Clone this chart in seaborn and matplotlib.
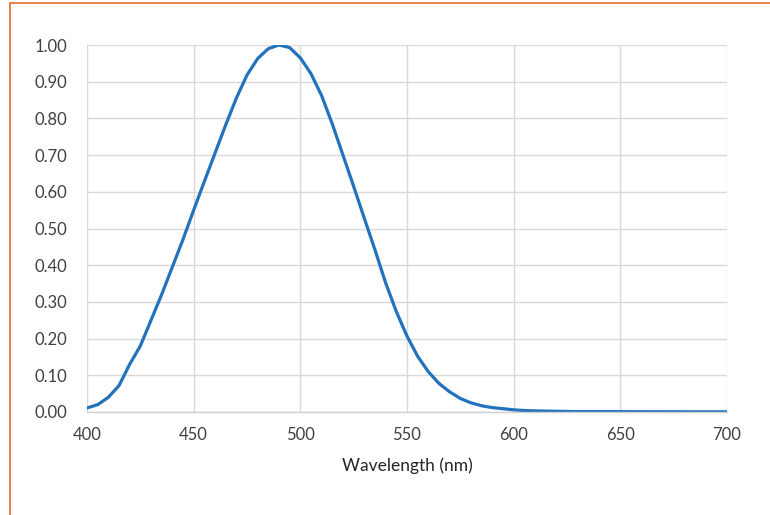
import pandas as pd
import numpy as np
import matplotlib
matplotlib.use('Agg')
import matplotlib.pyplot as plt
import seaborn as sns
from matplotlib.lines import Line2D
from matplotlib.ticker import FuncFormatter

# Spectral response
wavelength = [400, 405, 410, 415, 420, 425, 430, 435, 440, 445,
              450, 455, 460, 465, 470, 475, 480, 485, 490, 495,
              500, 505, 510, 515, 520, 525, 530, 535, 540, 545,
              550, 555, 560, 565, 570, 575, 580, 585, 590, 595,
              600, 605, 610, 620, 630, 640, 650, 660, 670, 680,
              690, 700]
response = [0.011, 0.020, 0.040, 0.072, 0.130, 0.180, 0.250, 0.320, 0.395, 0.470,
            0.550, 0.628, 0.705, 0.782, 0.855, 0.918, 0.963, 0.990, 1.000, 0.993,
            0.965, 0.922, 0.862, 0.785, 0.700, 0.615, 0.528, 0.442, 0.352, 0.274,
            0.207, 0.152, 0.110, 0.078, 0.055, 0.037, 0.025, 0.017, 0.012, 0.009,
            0.006, 0.004, 0.003, 0.002, 0.001, 0.001, 0.001, 0.0008, 0.0007, 0.0006,
            0.0005, 0.0005]

x_ticks = [400, 450, 500, 550, 600, 650, 700]
y_ticks = [0.0, 0.1, 0.2, 0.3, 0.4, 0.5, 0.6, 0.7, 0.8, 0.9, 1.0]
x_label = 'Wavelength (nm)'

df = pd.DataFrame({'Wavelength': wavelength, 'Response': response})

sns.set_theme(style='whitegrid')
plt.rcParams['font.family'] = ['Lato', 'DejaVu Sans']

fig = plt.figure(figsize=(7.7, 5.15), dpi=100)
ax = fig.add_axes([0.113, 0.2, 0.831, 0.7126])

sns.lineplot(data=df, x='Wavelength', y='Response', ax=ax,
             color='#2272BC', linewidth=2.3)

ax.set_xlim(400, 700)
ax.set_ylim(0, 1.0)
ax.set_xticks(x_ticks)
ax.set_yticks(y_ticks)
ax.yaxis.set_major_formatter(FuncFormatter(lambda v, p: f'{v:.2f}'))

ax.grid(True, color='#d9d9d9', linewidth=1.0)
ax.set_axisbelow(True)
for s in ['top', 'right', 'left']:
    ax.spines[s].set_visible(False)
ax.spines['bottom'].set_color('#d0d0d0')
ax.spines['bottom'].set_linewidth(1.0)

ax.tick_params(axis='both', length=0, labelsize=12, colors='#404040')
ax.tick_params(axis='y', pad=14)
ax.tick_params(axis='x', pad=11)
ax.set_xlabel(x_label, fontsize=12.5, color='#262626', labelpad=10)
ax.set_ylabel('')

# orange frame edges on left and top of the image
fig.add_artist(Line2D([10 / 770, 10 / 770], [0, 1 - 3 / 515],
                      transform=fig.transFigure, color='#E8743F', linewidth=1.3))
fig.add_artist(Line2D([10 / 770, 1], [1 - 3 / 515, 1 - 3 / 515],
                      transform=fig.transFigure, color='#E8743F', linewidth=1.3))

fig.savefig('out.png', dpi=100, facecolor='white')
